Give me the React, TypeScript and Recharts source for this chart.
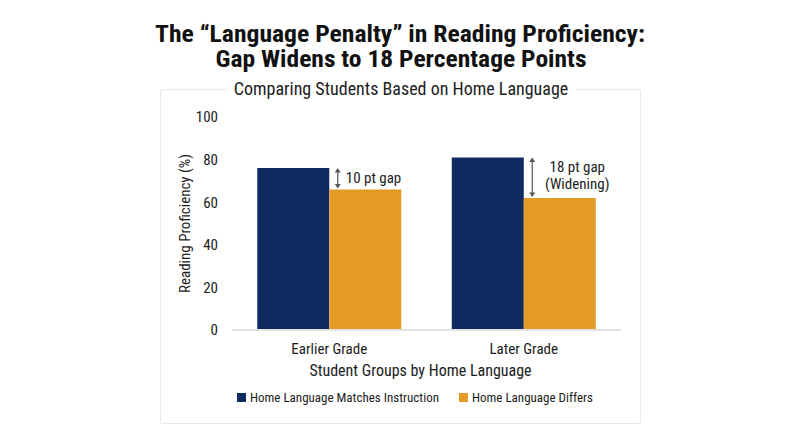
import React from 'react';
import { BarChart, Bar, XAxis, YAxis, ReferenceLine, Legend } from 'recharts';

const grades = ['Earlier Grade', 'Later Grade'];
const matchesValues = [76, 81];
const differsValues = [66, 62];
const gapLabels = [['10 pt gap'], ['18 pt gap', '(Widening)']];
const yTicks = [0, 20, 40, 60, 80, 100];

const seriesNames = ['Home Language Matches Instruction', 'Home Language Differs'];

const COLORS = {
  matches: '#0f2a5e',
  differs: '#e39b26',
  text: '#1c1c1c',
  axis: '#e2e2e2',
  arrow: '#555555',
};

const FONT = "'Liberation Sans Narrow', 'Roboto Condensed', 'DejaVu Sans Condensed', Roboto, sans-serif";

const data = grades.map((g, i) => ({
  grade: g,
  matches: matchesValues[i],
  differs: differsValues[i],
}));

// double-headed arrow + label, anchored on the bar tops via the reference line's own coordinates
function gapArrow(lines: string[]) {
  return (p: any) => {
    const x = p.x1 + 8.5;
    const top = Math.min(p.y1, p.y2);
    const bottom = Math.max(p.y1, p.y2) - 1;
    const mid = (top + bottom) / 2;
    const h = 3.5;
    const w = 3;
    const single = lines.length === 1;
    return (
      <g>
        <line x1={x} y1={top + 2} x2={x} y2={bottom - 2} stroke={COLORS.arrow} strokeWidth={1.2} />
        <polygon points={`${x},${top} ${x - w},${top + h + 1} ${x + w},${top + h + 1}`} fill={COLORS.arrow} />
        <polygon points={`${x},${bottom} ${x - w},${bottom - h - 1} ${x + w},${bottom - h - 1}`} fill={COLORS.arrow} />
        {single ? (
          <text x={x + 8} y={mid} dominantBaseline="central" fontSize={15} fill={COLORS.text}>
            {lines[0]}
          </text>
        ) : (
          lines.map((t, i) => (
            <text key={t} x={x + 45} y={mid - 10 + i * 17} textAnchor="middle" dominantBaseline="central" fontSize={15} fill={COLORS.text}>
              {t}
            </text>
          ))
        )}
      </g>
    );
  };
}

function LegendContent() {
  const colors = [COLORS.matches, COLORS.differs];
  return (
    <div style={{ display: 'flex', justifyContent: 'center', alignItems: 'center', gap: 20 }}>
      {seriesNames.map((name, i) => (
        <div key={name} style={{ display: 'flex', alignItems: 'center', gap: 4, fontSize: 13, color: COLORS.text }}>
          <span style={{ width: 9, height: 9, background: colors[i], display: 'inline-block' }} />
          <span>{name}</span>
        </div>
      ))}
    </div>
  );
}

export default function App() {
  return (
    <div style={{ position: 'absolute', left: 0, top: 0, width: 800, height: 447, background: '#fff', fontFamily: FONT, color: COLORS.text }}>
      <svg width={800} height={80} style={{ position: 'absolute', left: 0, top: 0 }}>
        <text x={400} y={42} textAnchor="middle" fontSize={23} fontWeight={700} fill="#111" textLength={490} lengthAdjust="spacingAndGlyphs">
          The “Language Penalty” in Reading Proficiency:
        </text>
        <text x={401} y={67} textAnchor="middle" fontSize={23} fontWeight={700} fill="#111" textLength={371} lengthAdjust="spacingAndGlyphs">
          Gap Widens to 18 Percentage Points
        </text>
      </svg>
      <div style={{ position: 'absolute', left: 160, top: 89, width: 479, height: 333, border: '1px solid #e9e9e9', borderRadius: 2 }} />
      <div style={{ position: 'absolute', left: 0, top: 0, width: 800, height: 447 }}>
        <BarChart
          width={800}
          height={447}
          data={data}
          margin={{ top: 117, right: 179, bottom: 71, left: 160 }}
          barCategoryGap="13%"
          barGap={0}
        >
          <XAxis
            dataKey="grade"
            axisLine={{ stroke: COLORS.axis, strokeWidth: 2 }}
            tickLine={false}
            tickMargin={7}
            height={46}
            tick={{ fontSize: 15, fill: COLORS.text }}
            label={{ value: 'Student Groups by Home Language', position: 'insideBottom', offset: 0, dx: -6, fontSize: 16, fill: COLORS.text }}
          />
          <YAxis
            domain={[0, 100]}
            ticks={yTicks}
            width={72}
            axisLine={false}
            tickLine={false}
            tickMargin={8}
            tick={{ fontSize: 15, fill: COLORS.text }}
            label={{ value: 'Reading Proficiency (%)', angle: -90, position: 'insideLeft', offset: 25, fontSize: 15, fill: COLORS.text, style: { textAnchor: 'middle' } }}
          />
          <Legend
            layout="horizontal"
            verticalAlign="middle"
            wrapperStyle={{ left: 0, top: 390, width: 830 }}
            content={<LegendContent />}
          />
          <Bar dataKey="matches" name={seriesNames[0]} fill={COLORS.matches} isAnimationActive={false} />
          <Bar dataKey="differs" name={seriesNames[1]} fill={COLORS.differs} isAnimationActive={false} />
          {grades.map((g, i) => (
            <ReferenceLine
              key={g}
              segment={[{ x: g, y: matchesValues[i] }, { x: g, y: differsValues[i] }]}
              shape={gapArrow(gapLabels[i])}
            />
          ))}
        </BarChart>
      </div>
      <div style={{ position: 'absolute', left: 401, top: 89, transform: 'translate(-50%, -50%)', background: '#fff', padding: '0 7px', fontSize: 18, whiteSpace: 'nowrap', lineHeight: '20px' }}>
        Comparing Students Based on Home Language
      </div>
    </div>
  );
}
